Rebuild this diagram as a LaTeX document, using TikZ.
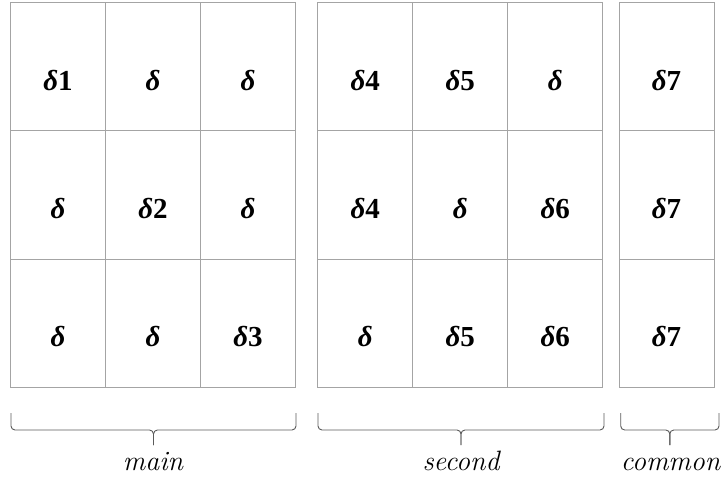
\documentclass[tikz,border=0pt]{standalone}
\usepackage{fontspec}
\setmainfont{Liberation Serif}
\newfontfamily\lblfont{Latin Modern Roman}
\definecolor{gridgray}{HTML}{A4A4A4}
\definecolor{bracegray}{HTML}{5A5A5A}
\newcommand{\dl}[1]{{\itshape δ}#1}
\begin{document}
\begin{tikzpicture}[x=1pt,y=-1pt,
  cell/.style={draw=gridgray,line width=0.9pt,minimum width=95pt,minimum height=128.33pt,inner sep=0pt,outer sep=0pt},
  val/.style={anchor=base,font=\fontsize{29}{30}\selectfont\bfseries,inner sep=0pt},
  bracepath/.style={draw=bracegray,line width=0.9pt,rounded corners=4pt},
  lbl/.style={anchor=base,font=\lblfont\itshape\fontsize{28}{30}\selectfont,inner sep=0pt}]
\useasboundingbox (0,0) rectangle (726,481);
% main block
\node[cell] (m11) at (58,66.67) {};
\node[cell] (m12) at (153,66.67) {};
\node[cell] (m13) at (248,66.67) {};
\node[cell] (m21) at (58,195) {};
\node[cell] (m22) at (153,195) {};
\node[cell] (m23) at (248,195) {};
\node[cell] (m31) at (58,323.33) {};
\node[cell] (m32) at (153,323.33) {};
\node[cell] (m33) at (248,323.33) {};
% second block
\node[cell] (s11) at (365.2,66.67) {};
\node[cell] (s12) at (460.2,66.67) {};
\node[cell] (s13) at (555.2,66.67) {};
\node[cell] (s21) at (365.2,195) {};
\node[cell] (s22) at (460.2,195) {};
\node[cell] (s23) at (555.2,195) {};
\node[cell] (s31) at (365.2,323.33) {};
\node[cell] (s32) at (460.2,323.33) {};
\node[cell] (s33) at (555.2,323.33) {};
% common block
\node[cell] (c1) at (666.5,66.67) {};
\node[cell] (c2) at (666.5,195) {};
\node[cell] (c3) at (666.5,323.33) {};
% values
\node[val] (vm11) at ([yshift=-23.4pt]m11.center) {\dl{1}};
\node[val] (vm12) at ([yshift=-23.4pt]m12.center) {\dl{}};
\node[val] (vm13) at ([yshift=-23.4pt]m13.center) {\dl{}};
\node[val] (vm21) at ([yshift=-23.4pt]m21.center) {\dl{}};
\node[val] (vm22) at ([yshift=-23.4pt]m22.center) {\dl{2}};
\node[val] (vm23) at ([yshift=-23.4pt]m23.center) {\dl{}};
\node[val] (vm31) at ([yshift=-23.4pt]m31.center) {\dl{}};
\node[val] (vm32) at ([yshift=-23.4pt]m32.center) {\dl{}};
\node[val] (vm33) at ([yshift=-23.4pt]m33.center) {\dl{3}};
\node[val] (vs11) at ([yshift=-23.4pt]s11.center) {\dl{4}};
\node[val] (vs12) at ([yshift=-23.4pt]s12.center) {\dl{5}};
\node[val] (vs13) at ([yshift=-23.4pt]s13.center) {\dl{}};
\node[val] (vs21) at ([yshift=-23.4pt]s21.center) {\dl{4}};
\node[val] (vs22) at ([yshift=-23.4pt]s22.center) {\dl{}};
\node[val] (vs23) at ([yshift=-23.4pt]s23.center) {\dl{6}};
\node[val] (vs31) at ([yshift=-23.4pt]s31.center) {\dl{}};
\node[val] (vs32) at ([yshift=-23.4pt]s32.center) {\dl{5}};
\node[val] (vs33) at ([yshift=-23.4pt]s33.center) {\dl{6}};
\node[val] (vc1) at ([yshift=-23.4pt]c1.center) {\dl{7}};
\node[val] (vc2) at ([yshift=-23.4pt]c2.center) {\dl{7}};
\node[val] (vc3) at ([yshift=-23.4pt]c3.center) {\dl{7}};
% braces
\coordinate (bmL) at (11,413);   \coordinate (bmR) at (296,413);   \coordinate (bmT) at (153.5,445);
\coordinate (bsL) at (318,413);  \coordinate (bsR) at (604,413);   \coordinate (bsT) at (461,445);
\coordinate (bcL) at (620.7,413);\coordinate (bcR) at (719,413);   \coordinate (bcT) at (669.8,445);
\path[bracepath] (bmL) |- ([yshift=15pt]bmT) -- (bmT);
\path[bracepath] (bmR) |- ([yshift=15pt]bmT) -- (bmT);
\path[bracepath] (bsL) |- ([yshift=15pt]bsT) -- (bsT);
\path[bracepath] (bsR) |- ([yshift=15pt]bsT) -- (bsT);
\path[bracepath] (bcL) |- ([yshift=15pt]bcT) -- (bcT);
\path[bracepath] (bcR) |- ([yshift=15pt]bcT) -- (bcT);
% labels
\node[lbl] (lmain) at (153,470) {main};
\node[lbl] (lsecond) at (461,470) {second};
\node[lbl] (lcommon) at (670.5,470) {common};
\end{tikzpicture}
\end{document}
